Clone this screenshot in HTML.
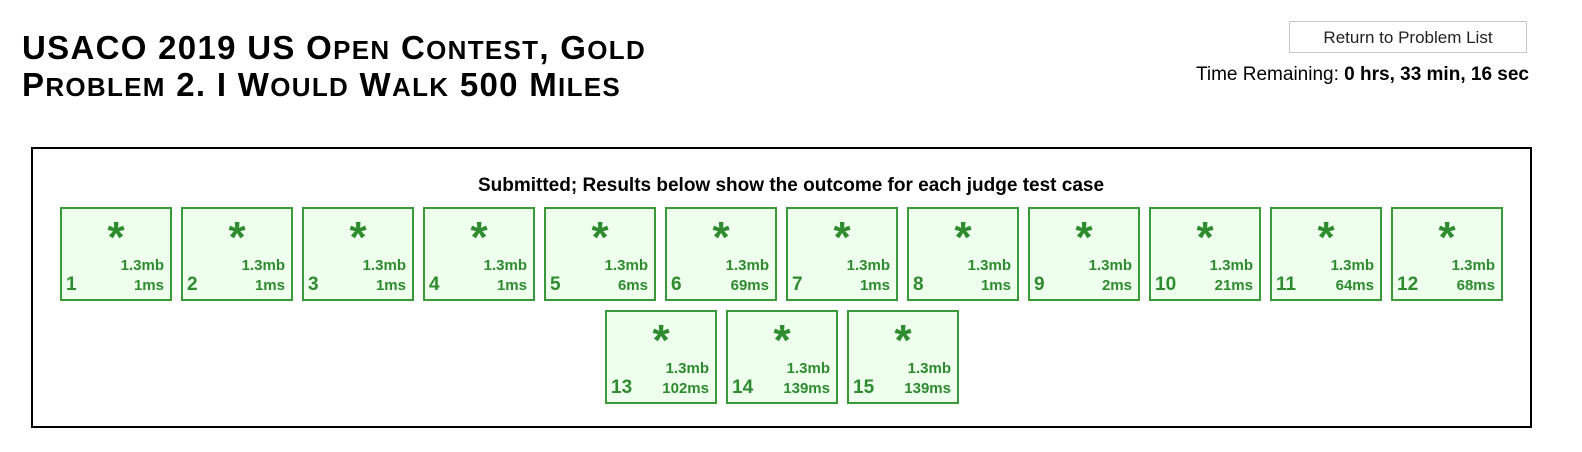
<!DOCTYPE html>
<html><head><meta charset="utf-8"><style>
body{margin:0;width:1582px;height:452px;background:#fff;font-family:"Liberation Sans",sans-serif;position:relative;overflow:hidden}
.t{position:absolute;left:22px;font-weight:bold;font-size:33px;color:#000;line-height:37px;white-space:nowrap;letter-spacing:1.3px}
.t s{text-decoration:none;font-size:26px}
.btn{position:absolute;left:1289px;top:21px;width:238px;height:32px;border:1px solid #c8c8c8;background:#fff;font-size:17px;text-align:center;line-height:31px;color:#222;box-sizing:border-box}
.time{position:absolute;right:53px;top:64px;font-size:19px}
.outer{position:absolute;left:31px;top:147px;width:1501px;height:281px;border:2px solid #000;box-sizing:border-box}
.head{position:absolute;left:0;width:1582px;top:175px;text-align:center;font-weight:bold;font-size:19px}
.case{position:absolute;width:112px;height:94px;border:2px solid #3a9a3a;background:#eeffee;box-sizing:border-box;color:#2e8b2e;font-weight:bold}
.star{position:absolute;left:0;right:0;top:4px;text-align:center;font-size:44px;line-height:50px}
.mb{position:absolute;right:6px;top:48px;font-size:15px}
.ms{position:absolute;right:6px;top:68px;font-size:15px}
.num{position:absolute;left:4px;top:65px;font-size:19px}
</style></head><body>
<div class="t" style="top:29px">USACO 2019 US O<s>PEN</s> C<s>ONTEST</s>, G<s>OLD</s></div>
<div class="t" style="top:66px">P<s>ROBLEM</s> 2. I W<s>OULD</s> W<s>ALK</s> 500 M<s>ILES</s></div>
<div class="btn">Return to Problem List</div>
<div class="time">Time Remaining: <b>0 hrs, 33 min, 16 sec</b></div>
<div class="outer"></div>
<div class="head">Submitted; Results below show the outcome for each judge test case</div>
<div id="cases"></div>
<script>
const caseNums=[1,2,3,4,5,6,7,8,9,10,11,12,13,14,15];
const mem=["1.3mb","1.3mb","1.3mb","1.3mb","1.3mb","1.3mb","1.3mb","1.3mb","1.3mb","1.3mb","1.3mb","1.3mb","1.3mb","1.3mb","1.3mb"];
const times=["1ms","1ms","1ms","1ms","6ms","69ms","1ms","1ms","2ms","21ms","64ms","68ms","102ms","139ms","139ms"];
const c=document.getElementById('cases');
caseNums.forEach((n,i)=>{
  const d=document.createElement('div');
  d.className='case';
  let x,y;
  if(i<12){x=60+i*121;y=207;}else{x=605+(i-12)*121;y=310;}
  d.style.left=x+'px';d.style.top=y+'px';
  
  
  d.innerHTML='<div class="star">*</div><div class="mb">'+mem[i]+'</div><div class="ms">'+times[i]+'</div><div class="num">'+n+'</div>';
  c.appendChild(d);
});
</script>
</body></html>
